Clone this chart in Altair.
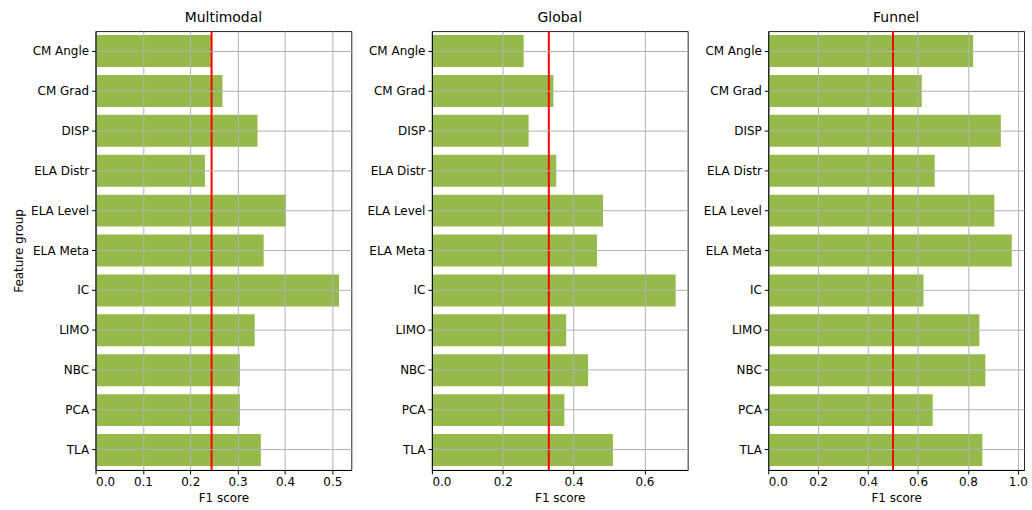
import altair as alt
import pandas as pd

# Feature groups, listed top to bottom
features = ["CM Angle", "CM Grad", "DISP", "ELA Distr", "ELA Level", "ELA Meta",
            "IC", "LIMO", "NBC", "PCA", "TLA"]

# F1 scores per problem class
multimodal = [0.245, 0.268, 0.342, 0.231, 0.402, 0.355, 0.514, 0.336, 0.305, 0.305, 0.349]
global_ = [0.259, 0.343, 0.273, 0.351, 0.483, 0.466, 0.688, 0.379, 0.441, 0.374, 0.511]
funnel = [0.821, 0.615, 0.932, 0.667, 0.906, 0.976, 0.622, 0.846, 0.870, 0.659, 0.858]

# Baseline F1 score (red line) per problem class
baselines = [0.245, 0.33, 0.5]

# x-axis limits and tick values per panel
x_max = [0.54, 0.722, 1.025]
x_ticks = [
    [0.0, 0.1, 0.2, 0.3, 0.4, 0.5],
    [0.0, 0.2, 0.4, 0.6],
    [0.0, 0.2, 0.4, 0.6, 0.8, 1.0],
]
titles = ["Multimodal", "Global", "Funnel"]
series = [multimodal, global_, funnel]

BAR_COLOR = "#96BA4A"
FONT = "DejaVu Sans"


def panel(i):
    df = pd.DataFrame({"feature": features, "f1": series[i]})
    base_df = pd.DataFrame({"baseline": [baselines[i]]})

    x_scale = alt.Scale(domain=[0, x_max[i]], nice=False, zero=True)
    y_axis = alt.Axis(
        title="Feature group" if i == 0 else None,
        grid=True, gridColor="#b0b0b0", gridWidth=1,
        tickSize=4, tickColor="#000", labelPadding=3,
        domainColor="#000", zindex=1,
    )
    x_axis = alt.Axis(
        title="F1 score", values=x_ticks[i], format=".1f",
        grid=True, gridColor="#b0b0b0", gridWidth=1,
        tickSize=4, tickColor="#000", labelPadding=3,
        domainColor="#000", zindex=1,
    )

    bars = alt.Chart(df).mark_bar(color=BAR_COLOR).encode(
        x=alt.X("f1:Q", scale=x_scale, axis=x_axis),
        y=alt.Y("feature:N", sort=features, axis=y_axis,
                scale=alt.Scale(paddingInner=0.2, paddingOuter=0.1)),
    )
    rule = alt.Chart(base_df).mark_rule(color="red", strokeWidth=2).encode(
        x=alt.X("baseline:Q", scale=x_scale),
    )
    return alt.layer(bars, rule).properties(
        width=257, height=441,
        title=alt.TitleParams(titles[i], fontSize=14, font=FONT,
                              fontWeight="normal", offset=5),
    )


chart = alt.hconcat(
    *[panel(i) for i in range(3)], spacing=81, bounds="flush"
).properties(
    padding={"left": 12, "top": 9, "right": 4, "bottom": 5}
).configure_view(
    stroke="#222", strokeWidth=1
).configure_axis(
    labelFont=FONT, titleFont=FONT, labelFontSize=12, titleFontSize=12,
    labelColor="#000", titleColor="#000", titleFontWeight="normal",
    titlePadding=5,
)

chart.save("out.html", embed_options={"renderer": "svg", "actions": False})
